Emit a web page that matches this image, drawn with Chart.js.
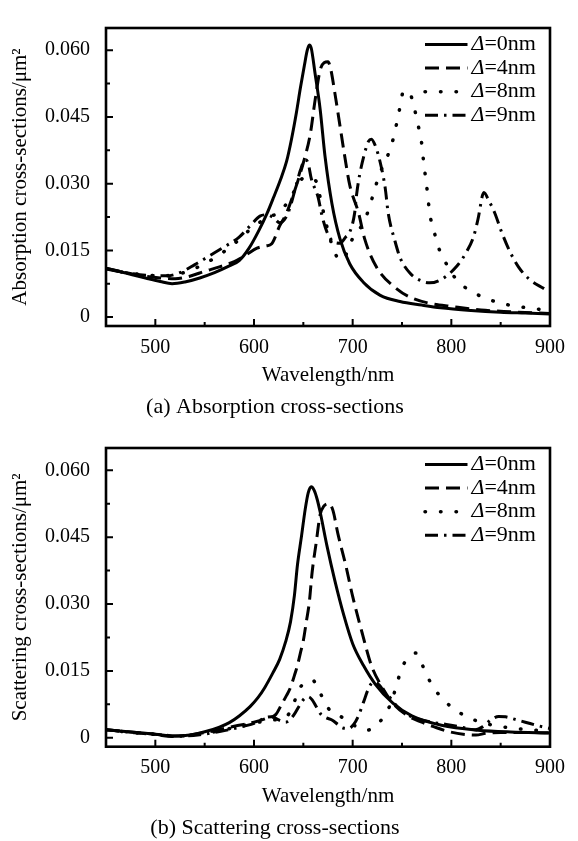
<!DOCTYPE html>
<html>
<head>
<meta charset="utf-8">
<script src="https://cdn.jsdelivr.net/npm/chart.js@4.4.1/dist/chart.umd.min.js"></script>
<style>
  html, body { margin: 0; padding: 0; background: #fff; }
  canvas { display: block; }
</style>
</head>
<body>
<canvas id="absChart" width="578" height="420"></canvas>
<canvas id="scaChart" width="578" height="421"></canvas>
<script>
// --- Datos ---
const labels = ["Δ=0nm", "Δ=4nm", "Δ=8nm", "Δ=9nm"];

const xMajor = [500, 600, 700, 800, 900];
const xMinor = [550, 650, 750, 850];
const yMajor = [0, 0.015, 0.030, 0.045, 0.060];
const yMajorLabels = ["0", "0.015", "0.030", "0.045", "0.060"];
const yMinor = [0.0075, 0.0225, 0.0375, 0.0525];

// (a) absorción
const absWl0 = [450, 470, 490, 505, 517, 530, 545, 560, 575, 585, 595, 605, 613, 620, 627, 633, 638, 643, 647, 651, 654, 656, 658, 662, 667, 672, 679, 687, 697, 711, 728, 748, 770, 789, 820, 850, 875, 900];
const absVal0 = [0.0110, 0.0099, 0.0088, 0.0080, 0.0075, 0.0079, 0.0088, 0.0100, 0.0115, 0.0127, 0.0155, 0.0195, 0.0232, 0.0270, 0.0310, 0.0350, 0.0400, 0.0460, 0.0515, 0.0565, 0.0600, 0.0612, 0.0605, 0.0546, 0.0468, 0.0361, 0.0255, 0.0177, 0.0120, 0.0078, 0.0049, 0.0035, 0.0027, 0.0021, 0.0015, 0.0011, 0.0009, 0.0007];

const absWl4 = [450, 470, 490, 505, 520, 535, 550, 565, 580, 592, 603, 612, 618, 626, 633, 641, 650, 657, 662, 667, 671, 675, 678, 682, 687, 692, 697, 706, 712, 724, 745, 761, 780, 800, 830, 860, 900];
const absVal4 = [0.0110, 0.0100, 0.0092, 0.0088, 0.0086, 0.0092, 0.0103, 0.0113, 0.0125, 0.0140, 0.0155, 0.0160, 0.0165, 0.0205, 0.0234, 0.0283, 0.0347, 0.0411, 0.0489, 0.0555, 0.0572, 0.0574, 0.0555, 0.0503, 0.0432, 0.0361, 0.0297, 0.0234, 0.0177, 0.0113, 0.0063, 0.0042, 0.0030, 0.0024, 0.0016, 0.0012, 0.0008];

const absWl8 = [450, 470, 490, 505, 520, 535, 550, 565, 580, 595, 605, 615, 625, 633, 640, 646, 652, 658, 663, 667, 671, 676, 681, 686, 690, 695, 700, 709, 716, 722, 728, 735, 741, 746, 752, 758, 763, 767, 770, 772, 774, 776, 778, 782, 786, 793, 805, 827, 849, 870, 900];
const absVal8 = [0.0108, 0.0100, 0.0095, 0.0093, 0.0095, 0.0105, 0.0120, 0.0140, 0.0165, 0.0195, 0.0212, 0.0225, 0.0235, 0.0255, 0.0280, 0.0305, 0.0314, 0.0312, 0.0305, 0.0270, 0.0230, 0.0185, 0.0150, 0.0130, 0.0128, 0.0150, 0.0177, 0.0205, 0.0240, 0.0285, 0.0326, 0.0360, 0.0400, 0.0450, 0.0509, 0.0503, 0.0465, 0.0425, 0.0390, 0.0347, 0.0312, 0.0276, 0.0234, 0.0198, 0.0163, 0.0128, 0.0085, 0.0050, 0.0032, 0.0023, 0.0015];

const absWl9 = [450, 470, 490, 505, 512, 525, 540, 555, 570, 585, 596, 606, 613, 620, 626, 633, 637, 642, 647, 652, 655, 658, 665, 669, 674, 680, 687, 693, 697, 702, 704, 707, 712, 716, 719, 723, 728, 733, 736, 743, 748, 758, 770, 778, 790, 805, 816, 823, 827, 833, 838, 844, 851, 859, 868, 879, 894];
const absVal9 = [0.0108, 0.0100, 0.0094, 0.0093, 0.0093, 0.0100, 0.0118, 0.0138, 0.0158, 0.0180, 0.0205, 0.0227, 0.0230, 0.0223, 0.0212, 0.0227, 0.0250, 0.0290, 0.0330, 0.0354, 0.0345, 0.0312, 0.0269, 0.0227, 0.0191, 0.0170, 0.0166, 0.0180, 0.0191, 0.0234, 0.0276, 0.0319, 0.0368, 0.0395, 0.0400, 0.0385, 0.0347, 0.0290, 0.0234, 0.0170, 0.0134, 0.0099, 0.0081, 0.0077, 0.0085, 0.0113, 0.0149, 0.0184, 0.0220, 0.0280, 0.0262, 0.0234, 0.0191, 0.0149, 0.0113, 0.0085, 0.0064];

// (b) dispersión
const scaWl0 = [450, 475, 500, 520, 535, 551, 565, 575, 585, 596, 604, 611, 619, 626, 632, 637, 641, 644, 648, 652, 655, 658, 661, 664, 667, 674, 682, 691, 700, 711, 723, 741, 760, 790, 827, 860, 900];
const scaVal0 = [0.0018, 0.0013, 0.0008, 0.0004, 0.0006, 0.0014, 0.0024, 0.0034, 0.0049, 0.0070, 0.0090, 0.0113, 0.0145, 0.0176, 0.0215, 0.0260, 0.0320, 0.0387, 0.0450, 0.0514, 0.0550, 0.0563, 0.0555, 0.0535, 0.0507, 0.0430, 0.0352, 0.0275, 0.0211, 0.0162, 0.0120, 0.0077, 0.0049, 0.0028, 0.0017, 0.0013, 0.0011];

const scaWl4 = [450, 475, 500, 520, 540, 560, 580, 600, 612, 622, 628, 633, 637, 641, 644, 647, 650, 653, 656, 659, 663, 667, 671, 676, 680, 685, 693, 700, 710, 719, 730, 741, 756, 770, 782, 797, 816, 825, 835, 850, 870, 900];
const scaVal4 = [0.0018, 0.0013, 0.0008, 0.0004, 0.0008, 0.0016, 0.0026, 0.0035, 0.0043, 0.0052, 0.0075, 0.0095, 0.0113, 0.0140, 0.0162, 0.0190, 0.0218, 0.0260, 0.0303, 0.0373, 0.0437, 0.0500, 0.0520, 0.0525, 0.0510, 0.0458, 0.0387, 0.0317, 0.0232, 0.0162, 0.0113, 0.0077, 0.0049, 0.0035, 0.0025, 0.0014, 0.0007, 0.0006, 0.0010, 0.0012, 0.0012, 0.0011];

const scaWl8 = [450, 480, 500, 520, 545, 570, 590, 605, 620, 632, 639, 646, 653, 659, 664, 669, 674, 680, 690, 700, 708, 715, 722, 732, 740, 745, 751, 758, 764, 769, 773, 781, 794, 814, 835, 857, 880, 900];
const scaVal8 = [0.0018, 0.0011, 0.0008, 0.0004, 0.0008, 0.0018, 0.0028, 0.0035, 0.0040, 0.0045, 0.0070, 0.0110, 0.0125, 0.0130, 0.0115, 0.0092, 0.0070, 0.0056, 0.0045, 0.0030, 0.0020, 0.0017, 0.0025, 0.0049, 0.0085, 0.0123, 0.0162, 0.0182, 0.0190, 0.0172, 0.0151, 0.0116, 0.0081, 0.0049, 0.0032, 0.0023, 0.0018, 0.0015];

const scaWl9 = [450, 480, 500, 520, 545, 570, 590, 603, 611, 618, 625, 632, 640, 646, 651, 655, 659, 663, 668, 673, 679, 685, 690, 696, 701, 706, 711, 716, 721, 727, 733, 738, 745, 753, 765, 780, 795, 810, 824, 832, 840, 848, 855, 865, 875, 888, 900];
const scaVal9 = [0.0018, 0.0011, 0.0007, 0.0003, 0.0007, 0.0016, 0.0026, 0.0035, 0.0045, 0.0047, 0.0040, 0.0035, 0.0050, 0.0072, 0.0088, 0.0092, 0.0085, 0.0070, 0.0052, 0.0045, 0.0040, 0.0030, 0.0022, 0.0021, 0.0030, 0.0050, 0.0080, 0.0110, 0.0125, 0.0118, 0.0100, 0.0090, 0.0070, 0.0055, 0.0043, 0.0035, 0.0030, 0.0024, 0.0018, 0.0025, 0.0040, 0.0048, 0.0047, 0.0041, 0.0035, 0.0027, 0.0021];

// --- Estilos ---
const serif = "'Liberation Serif', 'Times New Roman', serif";
const styles = [
  {},
  { borderDash: [14, 7] },
  { borderDash: [0.5, 15], borderCapStyle: "round", borderWidth: 3.5 },
  { borderDash: [13, 6, 2.5, 6] }
];

function series(i, xs, ys) {
  return {
    label: labels[i],
    data: xs.map((x, k) => ({ x, y: ys[k] })),
    borderColor: "#000",
    borderWidth: 3,
    borderCapStyle: "butt",
    pointRadius: 0,
    fill: false,
    cubicInterpolationMode: "monotone",
    ...styles[i]
  };
}

// --- Marco y ticks hacia dentro ---
const frame = {
  id: "frame",
  afterDatasetsDraw(chart) {
    const { ctx, chartArea: a, scales: { x, y } } = chart;
    ctx.save();
    ctx.strokeStyle = "#000";
    ctx.lineWidth = 2;
    ctx.beginPath();
    const xt = (v, len) => { const p = x.getPixelForValue(v); ctx.moveTo(p, a.bottom); ctx.lineTo(p, a.bottom - len); };
    const yt = (v, len) => { const p = y.getPixelForValue(v); ctx.moveTo(a.left, p); ctx.lineTo(a.left + len, p); };
    xMajor.forEach(v => xt(v, 7));
    xMinor.forEach(v => xt(v, 4));
    yMajor.forEach(v => yt(v, 7));
    yMinor.forEach(v => yt(v, 4));
    ctx.stroke();
    ctx.lineWidth = 2.6;
    ctx.strokeRect(a.left, a.top, a.width, a.height);
    ctx.restore();
  }
};

// --- Leyenda ---
const legendBox = {
  id: "legendBox",
  afterDraw(chart) {
    const { ctx, chartArea: a } = chart;
    chart.data.datasets.forEach((ds, i) => {
      const yy = a.top + 16.5 + i * 23.6;
      ctx.save();
      ctx.strokeStyle = "#000";
      ctx.lineWidth = ds.borderWidth;
      ctx.lineCap = ds.borderCapStyle;
      ctx.setLineDash(ds.borderDash || []);
      ctx.beginPath();
      ctx.moveTo(a.right - 125, yy);
      ctx.lineTo(a.right - 82.5, yy);
      ctx.stroke();
      ctx.fillStyle = "#000";
      ctx.textBaseline = "middle";
      ctx.font = `italic 22px ${serif}`;
      const head = ds.label[0];
      ctx.fillText(head, a.right - 78.5, yy);
      const w = ctx.measureText(head).width;
      ctx.font = `22px ${serif}`;
      ctx.fillText(ds.label.slice(1), a.right - 78.5 + w, yy);
      ctx.restore();
    });
  }
};

function makeChart(id, datasets, yTitle, caption, padTop, axisH) {
  return new Chart(document.getElementById(id), {
    type: "line",
    data: { datasets },
    plugins: [frame, legendBox],
    options: {
      responsive: false,
      animation: false,
      layout: { padding: { left: 0, right: 28, top: padTop, bottom: 0 } },
      plugins: {
        legend: { display: false },
        tooltip: { enabled: false },
        title: {
          display: true, position: "bottom", text: caption, color: "#000",
          font: { family: serif, size: 22, weight: "normal" }, padding: 0
        }
      },
      scales: {
        x: {
          type: "linear", min: 450, max: 900,
          afterBuildTicks: s => { s.ticks = xMajor.map(v => ({ value: v })); },
          afterFit: s => { s.height = axisH; },
          grid: { display: false, drawTicks: false },
          border: { display: false },
          ticks: { color: "#000", font: { family: serif, size: 20 }, padding: 9.5, maxRotation: 0, autoSkip: false },
          title: { display: true, text: "Wavelength/nm", color: "#000", font: { family: serif, size: 21 }, padding: { top: 0, bottom: 5.5 } }
        },
        y: {
          min: -0.002, max: 0.065,
          afterBuildTicks: s => { s.ticks = yMajor.map(v => ({ value: v })); },
          afterFit: s => { s.width = 106; },
          grid: { display: false, drawTicks: false },
          border: { display: false },
          ticks: { color: "#000", font: { family: serif, size: 20 }, padding: 16, autoSkip: false, callback: (v, i) => yMajorLabels[i] },
          title: { display: true, text: yTitle, color: "#000", font: { family: serif, size: 21 }, padding: { top: 7.4, bottom: 0 } }
        }
      }
    }
  });
}

// --- Init ---
makeChart("absChart", [
  series(0, absWl0, absVal0),
  series(1, absWl4, absVal4),
  series(2, absWl8, absVal8),
  series(3, absWl9, absVal9)
], "Absorption cross-sections/μm²", "(a) Absorption cross-sections", 11, 67.6);

makeChart("scaChart", [
  series(0, scaWl0, scaVal0),
  series(1, scaWl4, scaVal4),
  series(2, scaWl8, scaVal8),
  series(3, scaWl9, scaVal9)
], "Scattering cross-sections/μm²", "(b) Scattering cross-sections", 9.5, 67.9);
</script>
</body>
</html>
